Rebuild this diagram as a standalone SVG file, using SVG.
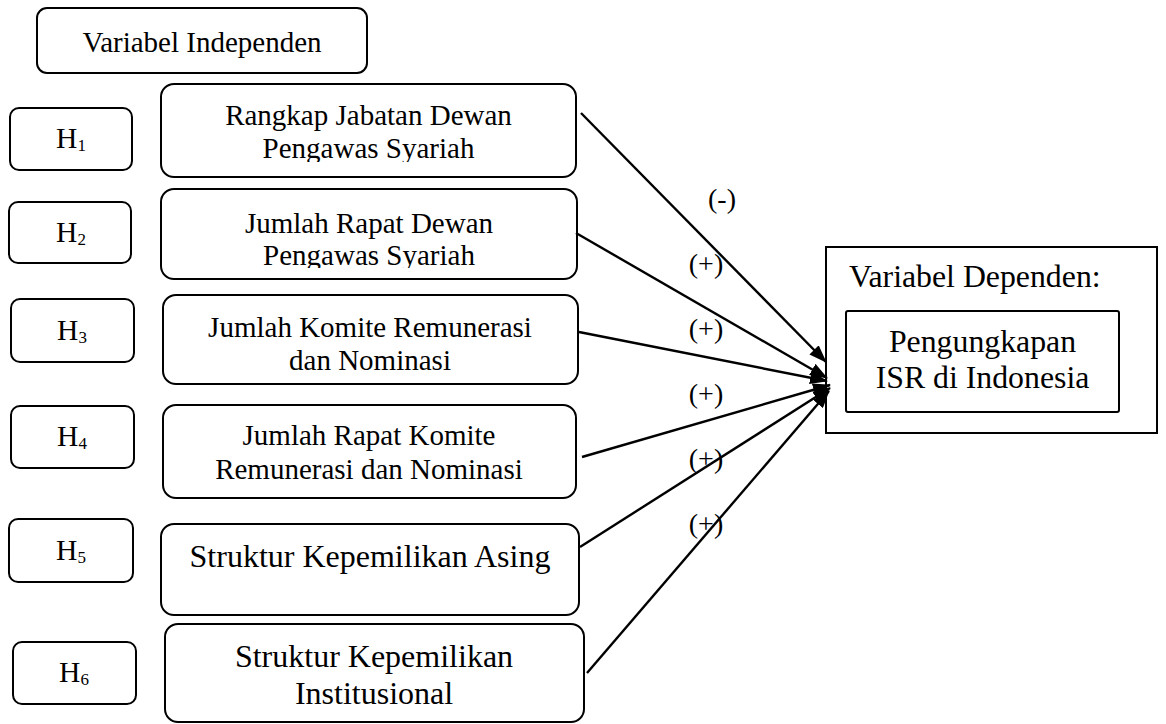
<svg xmlns="http://www.w3.org/2000/svg" width="1166" height="724" viewBox="0 0 1166 724">
<style>
text{font-family:"Liberation Serif","Times New Roman",serif;fill:#000}
.box{fill:#fff;stroke:#000;stroke-width:2}
.t{font-size:29px;text-anchor:middle}
.big{font-size:32px;text-anchor:middle}
.h{font-size:29.5px;text-anchor:middle}
.sub{font-size:17px}
.lbl{font-size:28px;text-anchor:middle}
.dv{font-size:31.8px}
.conn line{stroke:#000;stroke-width:2.4;marker-end:url(#ah)}
</style>
<defs>
<marker id="ah" viewBox="0 0 18 13" refX="17" refY="6.5" markerWidth="18" markerHeight="13" markerUnits="userSpaceOnUse" orient="auto">
<path d="M0,0 L18,6.5 L0,13 z" fill="#000"/>
</marker>
<clipPath id="c1"><rect x="161" y="84" width="415" height="78"/></clipPath>
<clipPath id="c2"><rect x="161" y="189" width="416" height="79"/></clipPath>
</defs>
<rect width="1166" height="724" fill="#fff"/>

<g id="var-independen">
<rect class="box" x="37" y="8" width="330" height="65" rx="10"/>
<text class="t" x="202" y="52">Variabel Independen</text>
</g>

<g id="h1"><rect class="box" x="10" y="108" width="122" height="62" rx="9"/><text class="h" x="71" y="148">H<tspan class="sub" dy="3">1</tspan></text></g>
<g id="h2"><rect class="box" x="9" y="202" width="122" height="61" rx="9"/><text class="h" x="71" y="242">H<tspan class="sub" dy="3">2</tspan></text></g>
<g id="h3"><rect class="box" x="11" y="299" width="123" height="63" rx="9"/><text class="h" x="72" y="340">H<tspan class="sub" dy="3">3</tspan></text></g>
<g id="h4"><rect class="box" x="11" y="406" width="123" height="62" rx="9"/><text class="h" x="72" y="446">H<tspan class="sub" dy="3">4</tspan></text></g>
<g id="h5"><rect class="box" x="9" y="519" width="124" height="63" rx="9"/><text class="h" x="71" y="560">H<tspan class="sub" dy="3">5</tspan></text></g>
<g id="h6"><rect class="box" x="13" y="642" width="123" height="62" rx="9"/><text class="h" x="74" y="682">H<tspan class="sub" dy="3">6</tspan></text></g>

<g id="rangkap">
<rect class="box" x="161" y="84" width="415" height="93" rx="13"/>
<g clip-path="url(#c1)">
<text class="t" x="368.5" y="125">Rangkap Jabatan Dewan</text>
<text class="t" x="368.5" y="158">Pengawas Syariah</text>
</g>
</g>

<g id="jumlah-rapat-dps">
<rect class="box" x="161" y="189" width="416" height="90" rx="13"/>
<g clip-path="url(#c2)">
<text class="t" x="369" y="233">Jumlah Rapat Dewan</text>
<text class="t" x="369" y="265">Pengawas Syariah</text>
</g>
</g>

<g id="jumlah-komite">
<rect class="box" x="163" y="295" width="415" height="89" rx="13"/>
<text class="t" x="370" y="337">Jumlah Komite Remunerasi</text>
<text class="t" x="370" y="370">dan Nominasi</text>
</g>

<g id="rapat-komite">
<rect class="box" x="163" y="405" width="413" height="93" rx="13"/>
<text class="t" x="369" y="445">Jumlah Rapat Komite</text>
<text class="t" x="369" y="479">Remunerasi dan Nominasi</text>
</g>

<g id="asing">
<rect class="box" x="161" y="524" width="418" height="91" rx="13"/>
<text class="big" x="370" y="567">Struktur Kepemilikan Asing</text>
</g>

<g id="institusional">
<rect class="box" x="165" y="624" width="419" height="98" rx="13"/>
<text class="big" x="374" y="667">Struktur Kepemilikan</text>
<text class="big" x="374" y="704">Institusional</text>
</g>

<g id="var-dependen">
<rect class="box" x="826" y="247" width="331" height="186"/>
<text class="dv" x="849" y="287">Variabel Dependen:</text>
<rect class="box" x="846" y="311" width="273" height="101" rx="2"/>
<text class="dv" x="982.5" y="352" text-anchor="middle">Pengungkapan</text>
<text class="dv" x="982.5" y="388" text-anchor="middle">ISR di Indonesia</text>
</g>

<g id="connectors" class="conn">
<line x1="581" y1="113" x2="826" y2="362"/>
<line x1="576" y1="233" x2="827" y2="378"/>
<line x1="579" y1="332" x2="827" y2="381"/>
<line x1="582" y1="457" x2="830" y2="385"/>
<line x1="580" y1="547" x2="830" y2="388"/>
<line x1="587" y1="673" x2="829" y2="391"/>
</g>

<g id="labels">
<text class="lbl" x="722" y="208">(-)</text>
<text class="lbl" x="706" y="273">(+)</text>
<text class="lbl" x="706" y="338">(+)</text>
<text class="lbl" x="706" y="403">(+)</text>
<text class="lbl" x="706" y="468">(+)</text>
<text class="lbl" x="706" y="533">(+)</text>
</g>
</svg>
